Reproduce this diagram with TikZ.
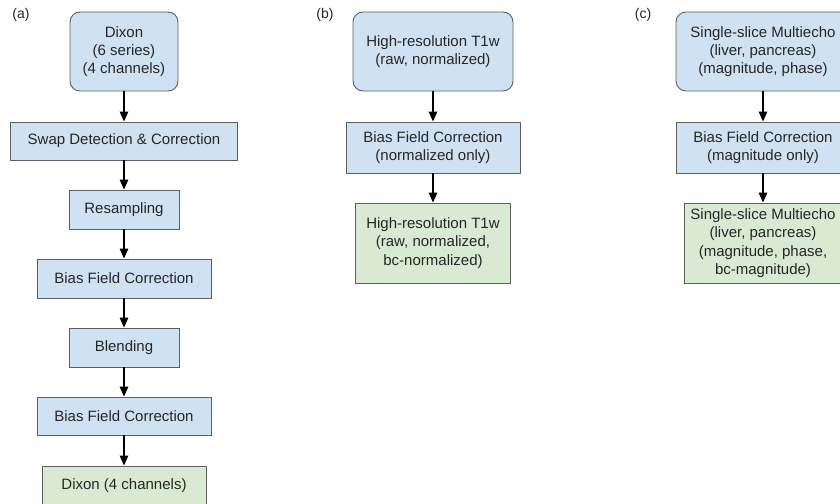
\documentclass[tikz,border=0pt]{standalone}
\usepackage{fontspec}
\setmainfont{Liberation Sans}
\usetikzlibrary{arrows.meta}
\definecolor{boxblue}{HTML}{CFE2F3}
\definecolor{boxgreen}{HTML}{D9EAD3}
\definecolor{boxline}{HTML}{5F5F5F}
\tikzset{
  base/.style={draw=boxline, line width=0.9pt, align=center, inner sep=0pt,
    font=\fontsize{15}{18.3}\selectfont, text=black!85},
  inbox/.style={base, fill=boxblue, rounded corners=10pt},
  procbox/.style={base, fill=boxblue},
  outbox/.style={base, fill=boxgreen},
  conn/.style={-{Triangle[length=10pt,width=8.5pt]}, line width=1.3pt, black},
  panel/.style={font=\fontsize{14}{16}\selectfont, text=black!85}
}
\begin{document}
\begin{tikzpicture}[x=1pt,y=-1pt]
\useasboundingbox (0,0) rectangle (840,503);
\clip (0,0) rectangle (840,503);
\fill[white] (0,0) rectangle (840,503);
% panel labels
\node[panel] (la) at (21,15) {(a)};
\node[panel] (lb) at (325,15) {(b)};
\node[panel] (lc) at (643,15) {(c)};
% (a)
\node[inbox, minimum width=108pt, minimum height=79pt] (a1) at (124,51.5) {Dixon\\(6 series)\\(4 channels)};
\node[procbox, minimum width=227pt, minimum height=38pt] (a2) at (124,141) {Swap Detection \& Correction};
\node[procbox, minimum width=110pt, minimum height=39pt] (a3) at (124,209.5) {Resampling};
\node[procbox, minimum width=174pt, minimum height=39pt] (a4) at (124,278.5) {Bias Field Correction};
\node[procbox, minimum width=110pt, minimum height=39pt] (a5) at (124,347.5) {Blending};
\node[procbox, minimum width=174pt, minimum height=38pt] (a6) at (124,416) {Bias Field Correction};
\node[outbox, minimum width=164pt, minimum height=39pt] (a7) at (124,485.5) {Dixon (4 channels)};
\draw[conn] (a1) -- (a2);
\draw[conn] (a2) -- (a3);
\draw[conn] (a3) -- (a4);
\draw[conn] (a4) -- (a5);
\draw[conn] (a5) -- (a6);
\draw[conn] (a6) -- (a7);
% (b)
\node[inbox, minimum width=160pt, minimum height=79pt] (b1) at (433,51.5) {High-resolution T1w\\(raw, normalized)};
\node[procbox, minimum width=174pt, minimum height=51pt] (b2) at (433,147.5) {Bias Field Correction\\(normalized only)};
\node[outbox, minimum width=155pt, minimum height=80pt] (b3) at (433,243) {High-resolution T1w\\(raw, normalized,\\bc-normalized)};
\draw[conn] (b1) -- (b2);
\draw[conn] (b2) -- (b3);
% (c)
\node[inbox, minimum width=174pt, minimum height=79pt] (c1) at (763,51.5) {Single-slice Multiecho\\(liver, pancreas)\\(magnitude, phase)};
\node[procbox, minimum width=174pt, minimum height=51pt] (c2) at (763,147.5) {Bias Field Correction\\(magnitude only)};
\node[outbox, minimum width=158pt, minimum height=80pt] (c3) at (763,243) {Single-slice Multiecho\\(liver, pancreas)\\(magnitude, phase,\\bc-magnitude)};
\draw[conn] (c1) -- (c2);
\draw[conn] (c2) -- (c3);
\end{tikzpicture}
\end{document}
